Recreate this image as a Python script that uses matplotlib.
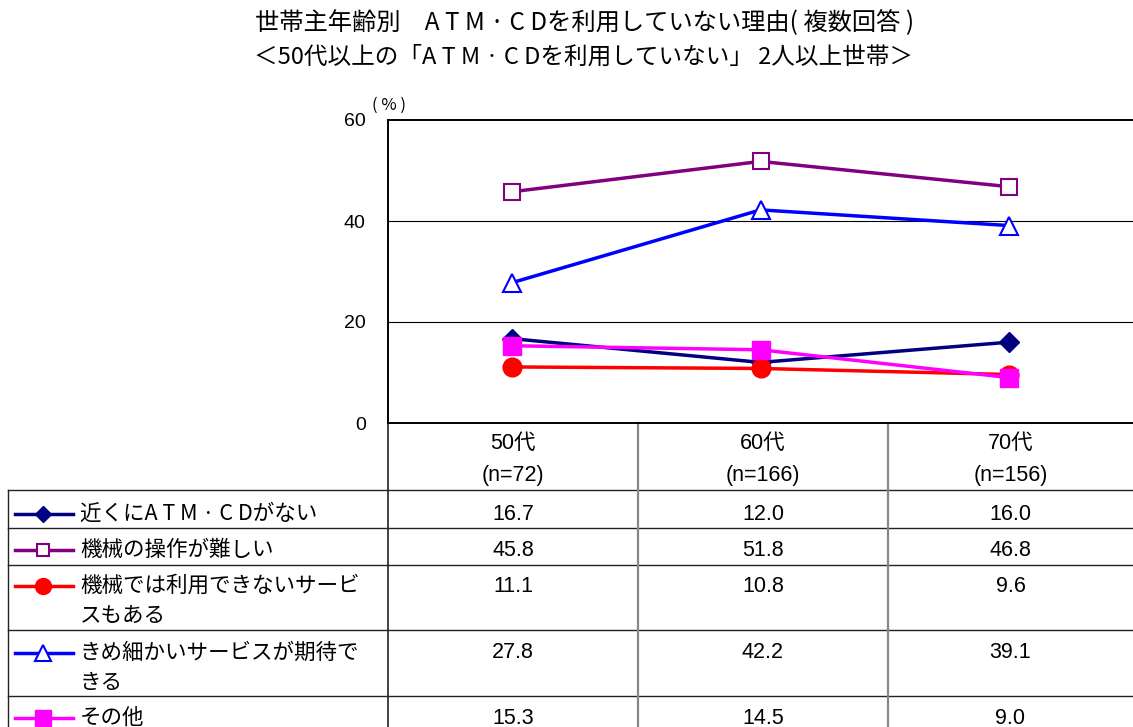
import matplotlib
matplotlib.use("Agg")
import matplotlib.pyplot as plt

plt.rcParams['font.family'] = ['Noto Sans CJK JP', 'DejaVu Sans']

# ---- data ----
categories = ["50代\n(n=72)", "60代\n(n=166)", "70代\n(n=156)"]
series_names = [
    "近くにA T M · C Dがない",
    "機械の操作が難しい",
    "機械では利用できないサービ\nスもある",
    "きめ細かいサービスが期待で\nきる",
    "その他",
]
v_near = [16.7, 12.0, 16.0]
v_hard = [45.8, 51.8, 46.8]
v_service = [11.1, 10.8, 9.6]
v_fine = [27.8, 42.2, 39.1]
v_other = [15.3, 14.5, 9.0]
values = [v_near, v_hard, v_service, v_fine, v_other]
yticks = [0, 20, 40, 60]
title1 = "世帯主年齢別　A T M · C Dを利用していない理由( 複数回答 )"
title2 = "＜50代以上の「A T M · C Dを利用していない」 2人以上世帯＞"

# ---- styles ----
styles = [
    dict(color="#000080", marker="D", ms=10, mfc="#000080", mec="#000080"),
    dict(color="#800080", marker="s", ms=11, mfc="white", mec="#800080", mew=1.5),
    dict(color="#FF0000", marker="o", ms=13.5, mfc="#FF0000", mec="#FF0000"),
    dict(color="#0000FF", marker="^", ms=13, mfc="white", mec="#0000FF", mew=1.5),
    dict(color="#FF00FF", marker="s", ms=13, mfc="#FF00FF", mec="#FF00FF"),
]

W, H = 1133, 727
fig = plt.figure(figsize=(W / 100, H / 100), dpi=100)

ov = fig.add_axes([0, 0, 1, 1])
ov.set_xlim(0, W)
ov.set_ylim(H, 0)
ov.axis("off")

px_l, px_r, px_t, px_b = 388, 1133, 120, 423
ax = fig.add_axes([px_l / W, (H - px_b) / H, (px_r - px_l) / W, (px_b - px_t) / H])
ax.set_facecolor("none")
xs = [i + 0.5 for i in range(len(categories))]
for vals, st in zip(values, styles):
    ax.plot(xs, vals, color=st["color"], lw=2.5, marker=st["marker"], ms=st["ms"],
            mfc=st["mfc"], mec=st["mec"], mew=st.get("mew", 1), zorder=3, clip_on=False)
ax.set_xlim(0, len(categories))
ax.set_ylim(0, 60)
ax.set_yticks(yticks)
ax.set_yticklabels([str(t) for t in yticks], family=["Liberation Sans"], fontsize=14)
ax.tick_params(axis="y", length=0, pad=16)
ax.set_xticks([])
for y in yticks[1:-1]:
    ax.axhline(y, color="black", lw=0.8, zorder=1)
for s in ["left", "top", "bottom"]:
    ax.spines[s].set_linewidth(1.4)
    ax.spines[s].set_color("black")
ax.spines["right"].set_visible(False)

ov.text(389, 105, "( % )", ha="center", va="center", fontsize=12)

fig.text(585 / W, 1 - 22 / H, title1, ha="center", va="center", fontsize=17.5)
fig.text(584 / W, 1 - 57 / H, title2, ha="center", va="center", fontsize=17)

# table grid
col_x = [388, 638, 888, 1133]
row_y = [423, 490, 528, 565, 630, 696]
dark = "#222222"
gray = "#888888"
for y in row_y[1:]:
    ov.plot([8, W], [y, y], color=dark, lw=1)
ov.plot([8, 8], [row_y[1], H], color=dark, lw=1)
ov.plot([388, 388], [px_b, H], color=dark, lw=1.2)
for x in col_x[1:3]:
    ov.plot([x, x], [row_y[0], H], color=gray, lw=1.6)

for i, c in enumerate(categories):
    cx = (col_x[i] + col_x[i + 1]) / 2
    l1, l2 = c.split("\n")
    ov.text(cx, 443, l1, ha="center", va="center", fontsize=15.5,
            family=["Liberation Sans", "Noto Sans CJK JP"])
    ov.text(cx, 475, l2, ha="center", va="center", fontsize=15.5,
            family=["Liberation Sans", "Noto Sans CJK JP"])

first_line_y = [514, 550, 586, 653, 718]
for name, vals, st, y in zip(series_names, values, styles, first_line_y):
    ov.plot([15, 73], [y, y], color=st["color"], lw=2.5)
    ov.plot([43], [y], marker=st["marker"], ms=st["ms"] * 0.85, mfc=st["mfc"],
            mec=st["mec"], mew=st.get("mew", 1), color=st["color"])
    for k, line in enumerate(name.split("\n")):
        ov.text(80, y + 30 * k, line, ha="left", va="center", fontsize=15.5)
    for i, v in enumerate(vals):
        cx = (col_x[i] + col_x[i + 1]) / 2
        ov.text(cx, y, f"{v:.1f}", ha="center", va="center", fontsize=15.5,
                family=["Liberation Sans"])

fig.savefig("out.png", dpi=100)
